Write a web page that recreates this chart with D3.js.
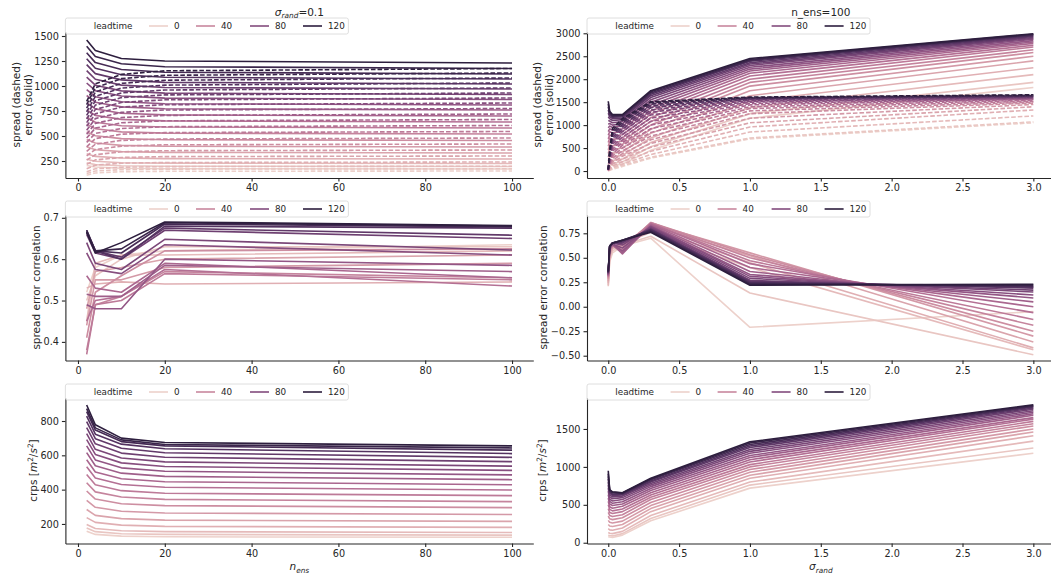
<!DOCTYPE html>
<head>
<meta charset="UTF-8">
<title>spread / error / crps vs n_ens and sigma_rand</title>
<style>
body { margin: 0; background: #fff; }
text { font-family: "DejaVu Sans", sans-serif; fill: #262626; }
.lbl { font-size: 10.5px; }
.leg text { font-size: 8.8px; }
</style>
<body>
<script src="https://cdn.jsdelivr.net/npm/d3@7"></script>
<script>

// ---- data ----
var leadtimes = [0, 6, 12, 18, 24, 30, 36, 42, 48, 54, 60, 66, 72, 78, 84, 90, 96, 102, 108, 114, 120];
var legendLeadtimes = [0, 40, 80, 120];
var nEns = [2, 4, 10, 20, 100];
var sigmaRand = [0, 0.01, 0.03, 0.1, 0.3, 1, 3];

var nTicks = [0, 20, 40, 60, 80, 100];
var sigmaTicks = [0, 0.5, 1, 1.5, 2, 2.5, 3];

// sigma_rand = 0.1, one row per leadtime, one column per n_ens
var errN = [
  [205, 190, 178, 173, 170], [232, 214, 202, 198, 195], [268, 248, 233, 229, 225],
  [322, 296, 280, 274, 270], [393, 363, 344, 336, 330], [464, 430, 406, 397, 390],
  [541, 502, 474, 463, 455], [619, 573, 541, 529, 520], [690, 638, 603, 590, 580],
  [762, 706, 666, 651, 640], [833, 771, 728, 711, 700], [905, 838, 791, 772, 760],
  [964, 893, 843, 823, 810], [1030, 953, 900, 879, 865], [1089, 1008, 951, 929, 915],
  [1154, 1068, 1009, 985, 970], [1214, 1124, 1061, 1036, 1020], [1273, 1178, 1113, 1087, 1070],
  [1333, 1234, 1165, 1138, 1120], [1398, 1294, 1222, 1193, 1175], [1460, 1355, 1275, 1250, 1230]
];
var sprN = [
  [108, 130, 143, 147, 150], [124, 150, 163, 169, 172], [143, 172, 188, 194, 198],
  [173, 209, 228, 235, 240], [216, 261, 285, 294, 300], [259, 313, 342, 353, 360],
  [302, 365, 399, 412, 420], [346, 418, 456, 470, 480], [392, 474, 518, 534, 545],
  [436, 526, 575, 593, 605], [479, 579, 632, 652, 665], [518, 626, 684, 706, 720],
  [558, 674, 736, 760, 775], [598, 722, 789, 813, 830], [634, 766, 836, 862, 880],
  [670, 809, 884, 911, 930], [706, 853, 931, 960, 980], [742, 896, 979, 1009, 1030],
  [778, 940, 1026, 1058, 1080], [814, 983, 1074, 1107, 1130], [846, 1022, 1116, 1152, 1175]
];
var corrN = [
  [0.52, 0.58, 0.61, 0.62, 0.635], [0.50, 0.56, 0.60, 0.63, 0.63], [0.45, 0.59, 0.61, 0.61, 0.62],
  [0.53, 0.54, 0.545, 0.54, 0.545], [0.48, 0.57, 0.58, 0.60, 0.61], [0.44, 0.55, 0.55, 0.58, 0.59],
  [0.41, 0.52, 0.56, 0.62, 0.625], [0.38, 0.49, 0.51, 0.57, 0.555], [0.37, 0.49, 0.50, 0.565, 0.55],
  [0.45, 0.50, 0.51, 0.575, 0.535], [0.56, 0.53, 0.52, 0.59, 0.555], [0.515, 0.51, 0.51, 0.585, 0.57],
  [0.49, 0.48, 0.48, 0.60, 0.585], [0.615, 0.575, 0.565, 0.635, 0.61], [0.64, 0.59, 0.575, 0.648, 0.622],
  [0.66, 0.615, 0.60, 0.67, 0.65], [0.665, 0.62, 0.605, 0.675, 0.658], [0.67, 0.62, 0.60, 0.68, 0.675],
  [0.665, 0.62, 0.615, 0.685, 0.678], [0.67, 0.62, 0.625, 0.688, 0.68], [0.665, 0.615, 0.64, 0.69, 0.681]
];
var crpsN = [
  [158, 139, 129, 125, 122], [176, 155, 143, 139, 135], [197, 173, 160, 155, 150],
  [237, 209, 193, 186, 180], [284, 250, 231, 222, 215], [338, 297, 274, 264, 255],
  [392, 345, 318, 307, 295], [440, 387, 357, 343, 330], [488, 428, 394, 379, 365],
  [533, 468, 430, 414, 398], [574, 503, 463, 446, 428], [616, 539, 496, 477, 458],
  [655, 573, 527, 507, 486], [691, 605, 556, 535, 512], [726, 635, 584, 562, 537],
  [762, 667, 613, 589, 563], [797, 697, 641, 615, 588], [828, 723, 665, 638, 610],
  [855, 747, 680, 655, 630], [872, 760, 690, 663, 643], [893, 778, 700, 675, 655]
];

// n_ens = 100, one row per leadtime, one column per sigma_rand
var errS = [
  [40, 130, 120, 150, 450, 1150, 1820], [90, 185, 170, 200, 530, 1250, 1930],
  [150, 245, 230, 260, 620, 1380, 2100], [220, 325, 310, 340, 720, 1520, 2250],
  [300, 405, 390, 420, 820, 1640, 2400], [380, 490, 470, 500, 910, 1750, 2500],
  [460, 570, 550, 580, 1000, 1850, 2580], [540, 640, 620, 650, 1080, 1930, 2640],
  [620, 715, 690, 720, 1160, 2000, 2700], [700, 785, 760, 790, 1240, 2070, 2740],
  [780, 855, 830, 860, 1310, 2130, 2780], [860, 920, 890, 920, 1380, 2180, 2810],
  [940, 980, 950, 980, 1440, 2220, 2840], [1020, 1035, 1000, 1030, 1500, 2260, 2870],
  [1100, 1090, 1050, 1080, 1550, 2300, 2890], [1180, 1140, 1100, 1120, 1600, 2330, 2910],
  [1260, 1185, 1140, 1150, 1640, 2360, 2930], [1330, 1225, 1170, 1180, 1670, 2390, 2950],
  [1400, 1255, 1195, 1200, 1700, 2410, 2965], [1460, 1280, 1210, 1215, 1725, 2430, 2980],
  [1520, 1300, 1230, 1230, 1750, 2450, 2990]
];
var sprS = [
  [5, 15, 40, 100, 280, 700, 1050], [5, 20, 60, 120, 300, 720, 1070],
  [5, 30, 80, 150, 360, 850, 1200], [10, 45, 110, 200, 430, 960, 1330],
  [10, 60, 150, 260, 520, 1050, 1400], [10, 80, 190, 320, 600, 1150, 1450],
  [15, 100, 230, 380, 680, 1250, 1480], [15, 120, 280, 440, 760, 1310, 1500],
  [15, 140, 330, 500, 840, 1360, 1520], [20, 160, 380, 560, 920, 1400, 1540],
  [20, 185, 430, 620, 1000, 1440, 1560], [20, 210, 480, 680, 1080, 1470, 1570],
  [25, 235, 530, 740, 1150, 1500, 1580], [25, 260, 580, 800, 1220, 1520, 1590],
  [25, 285, 630, 860, 1280, 1540, 1600], [30, 310, 680, 910, 1330, 1560, 1610],
  [30, 335, 730, 960, 1380, 1570, 1620], [30, 360, 780, 1010, 1420, 1580, 1630],
  [35, 385, 830, 1060, 1460, 1590, 1640], [35, 410, 880, 1100, 1490, 1600, 1650],
  [35, 440, 930, 1140, 1510, 1610, 1660]
];
var corrS = [
  [0.25, 0.46, 0.55, 0.62, 0.70, -0.21, -0.05], [0.21, 0.48, 0.57, 0.63, 0.72, 0.14, -0.49],
  [0.22, 0.50, 0.59, 0.64, 0.76, 0.40, -0.44], [0.24, 0.52, 0.60, 0.64, 0.80, 0.45, -0.42],
  [0.26, 0.54, 0.61, 0.63, 0.83, 0.52, -0.36], [0.28, 0.55, 0.62, 0.62, 0.85, 0.55, -0.30],
  [0.29, 0.56, 0.62, 0.60, 0.86, 0.53, -0.25], [0.30, 0.57, 0.63, 0.58, 0.86, 0.50, -0.19],
  [0.31, 0.58, 0.63, 0.56, 0.85, 0.47, -0.13], [0.31, 0.58, 0.63, 0.55, 0.85, 0.44, -0.06],
  [0.32, 0.59, 0.64, 0.54, 0.84, 0.40, 0.00], [0.32, 0.59, 0.64, 0.55, 0.83, 0.36, 0.05],
  [0.33, 0.60, 0.64, 0.57, 0.82, 0.33, 0.09], [0.33, 0.60, 0.64, 0.60, 0.82, 0.31, 0.12],
  [0.34, 0.61, 0.65, 0.63, 0.81, 0.29, 0.15], [0.34, 0.61, 0.65, 0.65, 0.80, 0.27, 0.17],
  [0.35, 0.61, 0.65, 0.66, 0.79, 0.26, 0.19], [0.35, 0.62, 0.65, 0.67, 0.79, 0.25, 0.20],
  [0.35, 0.62, 0.65, 0.68, 0.78, 0.24, 0.21], [0.36, 0.62, 0.65, 0.68, 0.77, 0.23, 0.22],
  [0.36, 0.62, 0.65, 0.68, 0.76, 0.22, 0.23]
];
var crpsS = [
  [80, 75, 70, 100, 290, 720, 1180], [100, 95, 90, 120, 320, 760, 1250],
  [135, 125, 120, 150, 360, 800, 1340], [185, 170, 165, 195, 410, 850, 1410],
  [240, 220, 215, 240, 450, 890, 1460], [295, 270, 260, 285, 490, 930, 1500],
  [350, 315, 305, 330, 530, 965, 1540], [400, 360, 345, 370, 570, 1000, 1570],
  [450, 400, 385, 410, 600, 1030, 1600], [500, 440, 420, 445, 630, 1065, 1630],
  [545, 475, 455, 480, 660, 1095, 1650], [590, 510, 490, 510, 690, 1125, 1680],
  [635, 545, 520, 540, 715, 1150, 1700], [680, 575, 550, 570, 740, 1180, 1720],
  [720, 605, 580, 595, 760, 1205, 1740], [760, 630, 605, 615, 780, 1230, 1760],
  [800, 655, 625, 630, 800, 1255, 1775], [840, 670, 640, 640, 815, 1275, 1790],
  [875, 685, 655, 650, 830, 1295, 1800], [910, 695, 665, 655, 840, 1315, 1810],
  [950, 700, 672, 660, 850, 1330, 1820]
];

// ---- seaborn default sequential palette (cubehelix, start 0, rot .4, hue .8, light .85, dark .15)
function cubehelix(x) {
  var a = 0.8 * x * (1 - x) / 2,
      phi = 2 * Math.PI * (0.4 * x),
      c = Math.cos(phi), s = Math.sin(phi);
  function ch(p0, p1) { return Math.max(0, Math.min(1, x + a * (p0 * c + p1 * s))) * 255; }
  return d3.rgb(ch(-0.14861, 1.78277), ch(-0.29227, -0.90649), ch(1.97294, 0)).formatHex();
}
var hue = d3.scaleLinear().domain([0, 120]).range([0.85, 0.15]);
function color(lt) { return cubehelix(hue(lt)); }

// ---- layout
var W = 1051, H = 578;
var svg = d3.select("body").append("svg").attr("width", W).attr("height", H);

var cols = [
  {x0: 65.4, x1: 533.3, domain: [-2.9, 104.9], xs: nEns, ticks: nTicks, fmt: d3.format("d")},
  {x0: 587, x1: 1054.6, domain: [-0.15, 3.15], xs: sigmaRand, ticks: sigmaTicks, fmt: d3.format(".1f")}
];
var rows = [{y0: 31.5, y1: 178}, {y0: 214.5, y1: 360.5}, {y0: 397.5, y1: 543.5}];

var panels = [
  {row: 0, col: 0, series: [errN, sprN], yDomain: [80, 1545], yTicks: [250, 500, 750, 1000, 1250, 1500], fmt: "d", lab: 0, labOff: [49.5, 37]},
  {row: 0, col: 1, series: [errS, sprS], yDomain: [-152, 3039], yTicks: [0, 500, 1000, 1500, 2000, 2500, 3000], fmt: "d", lab: 0, labOff: [50, 37.5]},
  {row: 1, col: 0, series: [corrN], yDomain: [0.355, 0.708], yTicks: [0.4, 0.5, 0.6, 0.7], fmt: ".1f", lab: 1, labOff: [29]},
  {row: 1, col: 1, series: [corrS], yDomain: [-0.549, 0.942], yTicks: [-0.5, -0.25, 0, 0.25, 0.5, 0.75], fmt: ".2f", lab: 1, labOff: [43.5]},
  {row: 2, col: 0, series: [crpsN], yDomain: [86, 937], yTicks: [200, 400, 600, 800], fmt: "d", lab: 2, labOff: [32]},
  {row: 2, col: 1, series: [crpsS], yDomain: [-10, 1915], yTicks: [0, 500, 1000, 1500], fmt: "d", lab: 2, labOff: [44.5]}
];

function styleAxis(g, size) {
  g.style("font-family", '"DejaVu Sans", sans-serif').style("font-size", size).style("color", "#262626");
  g.selectAll("path, line").attr("stroke-width", 1.1);
}

panels.forEach(function(p) {
  var c = cols[p.col], r = rows[p.row];
  var x = d3.scaleLinear().domain(c.domain).range([c.x0, c.x1]);
  var y = d3.scaleLinear().domain(p.yDomain).range([r.y1, r.y0]);

  var line = d3.line()
      .x(function(d, i) { return x(c.xs[i]); })
      .y(function(d) { return y(d); });

  // first series solid (error / metric), second dashed (spread)
  p.series.forEach(function(vals, si) {
    svg.append("g").selectAll("path")
        .data(vals)
      .enter().append("path")
        .attr("d", line)
        .attr("fill", "none")
        .attr("stroke", function(d, i) { return color(leadtimes[i]); })
        .attr("stroke-width", 1.6)
        .attr("stroke-linejoin", "round")
        .attr("stroke-dasharray", si == 1 ? "4.6,2" : null);
  });

  // axes (left + bottom spines only)
  var gx = svg.append("g")
      .attr("transform", "translate(0," + r.y1 + ")")
      .call(d3.axisBottom(x).tickValues(c.ticks).tickFormat(c.fmt).tickSize(3.5).tickPadding(3).tickSizeOuter(0));
  styleAxis(gx, "9.7px");
  var gy = svg.append("g")
      .attr("transform", "translate(" + c.x0 + ",0)")
      .call(d3.axisLeft(y).tickValues(p.yTicks).tickFormat(d3.format(p.fmt)).tickSize(3.5).tickPadding(3).tickSizeOuter(0));
  styleAxis(gy, "9.7px");

  // y labels
  var cy = (r.y0 + r.y1) / 2;
  function ylab(off) {
    return svg.append("text").attr("class", "lbl")
        .attr("transform", "translate(" + (c.x0 - off) + "," + cy + ") rotate(-90)")
        .attr("text-anchor", "middle").attr("dy", "0.35em");
  }
  if (p.lab == 0) {
    ylab(p.labOff[0]).text("spread (dashed)");
    ylab(p.labOff[1]).text("error (solid)");
  } else if (p.lab == 1) {
    ylab(p.labOff[0]).text("spread error correlation");
  } else {
    var t = ylab(p.labOff[0]);
    t.append("tspan").text("crps [");
    t.append("tspan").attr("font-style", "italic").text("m");
    t.append("tspan").attr("dy", -4).attr("font-size", "7.4px").text("2");
    t.append("tspan").attr("dy", 4).text("/");
    t.append("tspan").attr("font-style", "italic").text("s");
    t.append("tspan").attr("dy", -4).attr("font-size", "7.4px").text("2");
    t.append("tspan").attr("dy", 4).text("]");
  }

  // legend
  var lg = svg.append("g").attr("class", "leg")
      .attr("transform", "translate(" + c.x0 + "," + (r.y0 - 13.5) + ")");
  lg.append("rect")
      .attr("x", 0).attr("y", 0).attr("width", 283).attr("height", 16).attr("rx", 2)
      .attr("fill", "#fff").attr("fill-opacity", 0.8)
      .attr("stroke", "#d6d6d6").attr("stroke-width", 0.8);
  lg.append("text").attr("x", 28.3).attr("y", 11.2).text("leadtime");
  var lx = [83.6, 130.6, 184.6, 237.6];
  legendLeadtimes.forEach(function(lt, i) {
    lg.append("line")
        .attr("x1", lx[i]).attr("x2", lx[i] + 19).attr("y1", 8).attr("y2", 8)
        .attr("stroke", color(lt)).attr("stroke-width", 1.6);
    lg.append("text").attr("x", lx[i] + 25).attr("y", 11.2).text(lt);
  });
});

// titles
var t1 = svg.append("text").attr("class", "lbl").attr("text-anchor", "middle")
    .attr("x", (cols[0].x0 + cols[0].x1) / 2).attr("y", 15.5);
t1.append("tspan").attr("font-style", "italic").text("σ");
t1.append("tspan").attr("font-style", "italic").attr("font-size", "7.4px").attr("dy", 2.5).text("rand");
t1.append("tspan").attr("dy", -2.5).text("=0.1");

svg.append("text").attr("class", "lbl").attr("text-anchor", "middle")
    .attr("x", (cols[1].x0 + cols[1].x1) / 2).attr("y", 15.5).text("n_ens=100");

// x labels (bottom row)
var xl1 = svg.append("text").attr("class", "lbl").attr("text-anchor", "middle")
    .attr("x", (cols[0].x0 + cols[0].x1) / 2).attr("y", 570);
xl1.append("tspan").attr("font-style", "italic").text("n");
xl1.append("tspan").attr("font-style", "italic").attr("font-size", "7.4px").attr("dy", 2.5).text("ens");

var xl2 = svg.append("text").attr("class", "lbl").attr("text-anchor", "middle")
    .attr("x", (cols[1].x0 + cols[1].x1) / 2).attr("y", 570);
xl2.append("tspan").attr("font-style", "italic").text("σ");
xl2.append("tspan").attr("font-style", "italic").attr("font-size", "7.4px").attr("dy", 2.5).text("rand");

</script>
</body>
